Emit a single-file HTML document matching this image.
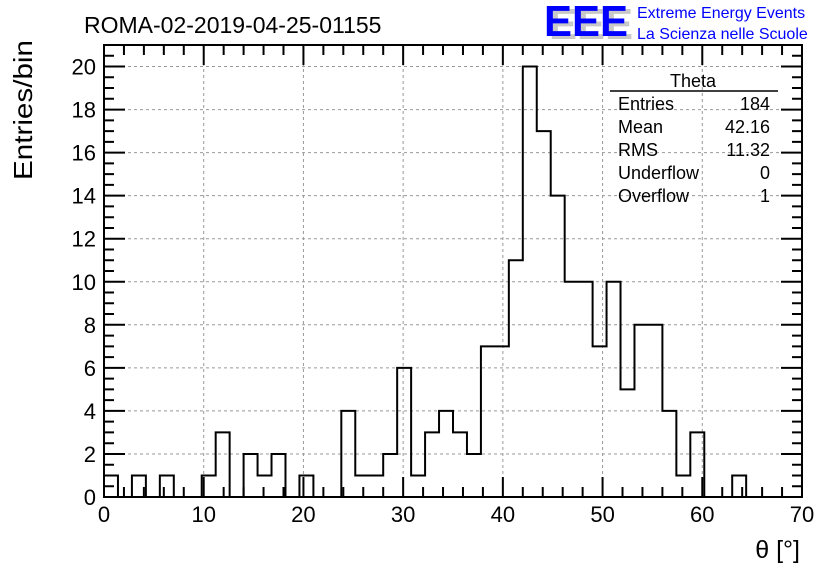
<!DOCTYPE html>
<html><head><meta charset="utf-8"><style>
body{margin:0;background:#fff}
svg text{font-family:"Liberation Sans",sans-serif}
</style></head><body>
<svg id="chart" width="836" height="572" viewBox="0 0 836 572" xmlns="http://www.w3.org/2000/svg">
<g id="grid"></g>
<path id="hist" fill="none" stroke="#000" stroke-width="2"/>
<g id="axes"></g>
<rect x="104" y="45" width="698" height="452" fill="none" stroke="#000" stroke-width="2"/>
<text x="84" y="33" font-size="23">ROMA-02-2019-04-25-01155</text>
<g>
<text x="549" y="39" font-size="44" font-weight="bold" fill="#c8c8c8" textLength="84" lengthAdjust="spacingAndGlyphs">EEE</text>
<text x="544" y="36" font-size="44" font-weight="bold" fill="#0000ff" textLength="84" lengthAdjust="spacingAndGlyphs">EEE</text>
<text x="637" y="18" font-size="16" fill="#0000ff">Extreme Energy Events</text>
<text x="637" y="39" font-size="16" fill="#0000ff">La Scienza nelle Scuole</text>
</g>
<g font-size="18">
<text x="693" y="87" text-anchor="middle">Theta</text>
<line x1="610" y1="91" x2="778" y2="91" stroke="#000" stroke-width="1.5"/>
<text x="618" y="110">Entries</text><text x="770" y="110" text-anchor="end">184</text>
<text x="618" y="133">Mean</text><text x="770" y="133" text-anchor="end">42.16</text>
<text x="618" y="156">RMS</text><text x="770" y="156" text-anchor="end">11.32</text>
<text x="618" y="179">Underflow</text><text x="770" y="179" text-anchor="end">0</text>
<text x="618" y="202">Overflow</text><text x="770" y="202" text-anchor="end">1</text>
</g>
<text transform="translate(32,40) rotate(-90)" font-size="26" text-anchor="end" textLength="140" lengthAdjust="spacingAndGlyphs">Entries/bin</text>
<text x="800" y="558" font-size="25" text-anchor="end">θ [°]</text>
</svg>
<script>
const counts=[1,0,1,0,1,0,0,1,3,0,2,1,2,0,1,0,0,4,1,1,2,6,1,3,4,3,2,7,7,11,20,17,14,10,10,7,10,5,8,8,4,1,3,0,0,1,0,0,0,0];
const xTicks=[0,10,20,30,40,50,60,70];
const yTicks=[0,2,4,6,8,10,12,14,16,18,20];
const binWidth=1.4;
const X0=104,X1=802,Y0=497,Y1=45,XMAX=70,YMAX=21;
const sx=v=>X0+(v/XMAX)*(X1-X0);
const sy=v=>Y0-(v/YMAX)*(Y0-Y1);
const NS="http://www.w3.org/2000/svg";
const grid=document.getElementById('grid'),axes=document.getElementById('axes');
function mk(tag,attrs,parent){const e=document.createElementNS(NS,tag);for(const k in attrs)e.setAttribute(k,attrs[k]);parent.appendChild(e);return e;}
xTicks.forEach(t=>{
 if(t>0&&t<XMAX){const l=mk('line',{x1:sx(t),x2:sx(t),y1:Y1,y2:Y0,stroke:'#999','stroke-dasharray':'3,3'},grid);
 
 }
 const tx=mk('text',{x:sx(t),y:522,'font-size':22,'text-anchor':'middle'},axes);tx.textContent=t;
 
 
});
yTicks.forEach(t=>{
 if(t>0){const l=mk('line',{x1:X0,x2:X1,y1:sy(t),y2:sy(t),stroke:'#999','stroke-dasharray':'3,3'},grid);
 
 }
 const tx=mk('text',{x:96,y:sy(t)+8,'font-size':22,'text-anchor':'end'},axes);tx.textContent=t;
 
 
});
let tk='';
for(let v=0;v<=XMAX;v+=2){const L=(v%10===0)?20:10;const x=sx(v);tk+='M'+x+','+Y0+'v'+(-L)+'M'+x+','+Y1+'v'+L;}
for(let v=0;v<=YMAX+1e-9;v+=0.5){const L=(Math.abs(v%2)<1e-9)?21:10;const y=sy(v);tk+='M'+X0+','+y+'h'+L+'M'+X1+','+y+'h'+(-L);}
const tp=mk('path',{d:tk,stroke:'#000','stroke-width':2,fill:'none'},axes);


let d='M'+sx(0)+','+sy(0);
counts.forEach((c,i)=>{d+='L'+sx(i*binWidth)+','+sy(c)+'L'+sx((i+1)*binWidth)+','+sy(c);});
d+='L'+sx(counts.length*binWidth)+','+sy(0);
document.getElementById('hist').setAttribute('d',d);
</script>
</body></html>
